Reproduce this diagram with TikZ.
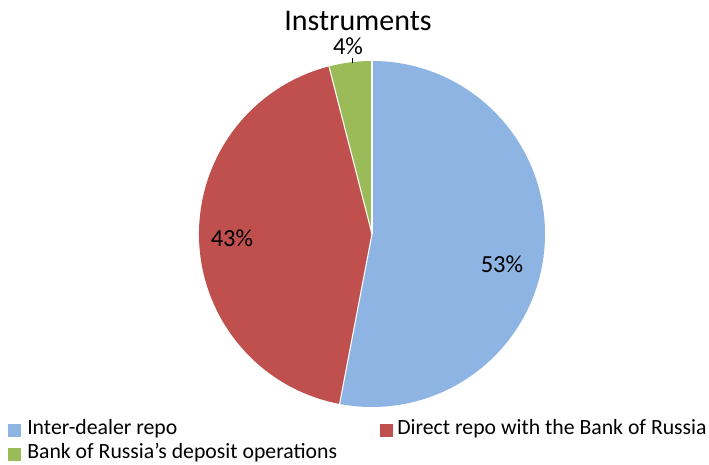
\documentclass[tikz,border=0pt]{standalone}
\usepackage{fontspec}
\setmainfont{Carlito}
\definecolor{sliceblue}{HTML}{8EB4E3}
\definecolor{slicered}{HTML}{C0504D}
\definecolor{slicegreen}{HTML}{9BBB59}
\begin{document}
\begin{tikzpicture}[x=0.75pt,y=-0.75pt,
  slice/.style={draw=white,line width=0.8pt},
  pct/.style={font=\fontsize{18.4}{20}\selectfont,inner sep=0pt},
  legtext/.style={font=\fontsize{16.3}{18}\selectfont,anchor=west,inner sep=0pt},
  legbox/.style={minimum size=9.75pt,inner sep=0pt}]
\useasboundingbox[fill=white] (0,0) rectangle (709,464);
\coordinate (c) at (372,234);
\def\R{173}
\fill[sliceblue] (c) -- ++(-90:\R) arc[start angle=-90,end angle=100.8,radius=\R] -- cycle;
\fill[slicered] (c) -- ++(100.8:\R) arc[start angle=100.8,end angle=255.6,radius=\R] -- cycle;
\fill[slicegreen] (c) -- ++(255.6:\R) arc[start angle=255.6,end angle=270,radius=\R] -- cycle;
\draw[slice] (c) -- ++(-90:\R);
\draw[slice] (c) -- ++(100.8:\R);
\draw[slice] (c) -- ++(255.6:\R);
% title
\node[font=\fontsize{22.5}{24}\selectfont,inner sep=0pt] (title) at (358,21) {Instruments};
% labels
\node[pct] (l53) at (502,264) {53\%};
\node[pct] (l43) at (232,238) {43\%};
\node[pct] (l4) at (348,46) {4\%};
\coordinate (t1) at (352,58);
\coordinate (t2) at (352,63);
\draw[line width=0.6pt] (t1) -- (t2);
% legend
\node[legbox,fill=sliceblue] (b1) at (14,430) {};
\node[legtext] (g1) at (27,429) {Inter-dealer repo};
\node[legbox,fill=slicered] (b2) at (386,430) {};
\node[legtext] (g2) at (397,429) {Direct repo with the Bank of Russia};
\node[legbox,fill=slicegreen] (b3) at (14,454) {};
\node[legtext] (g3) at (27,453) {Bank of Russia’s deposit operations};
\end{tikzpicture}
\end{document}
